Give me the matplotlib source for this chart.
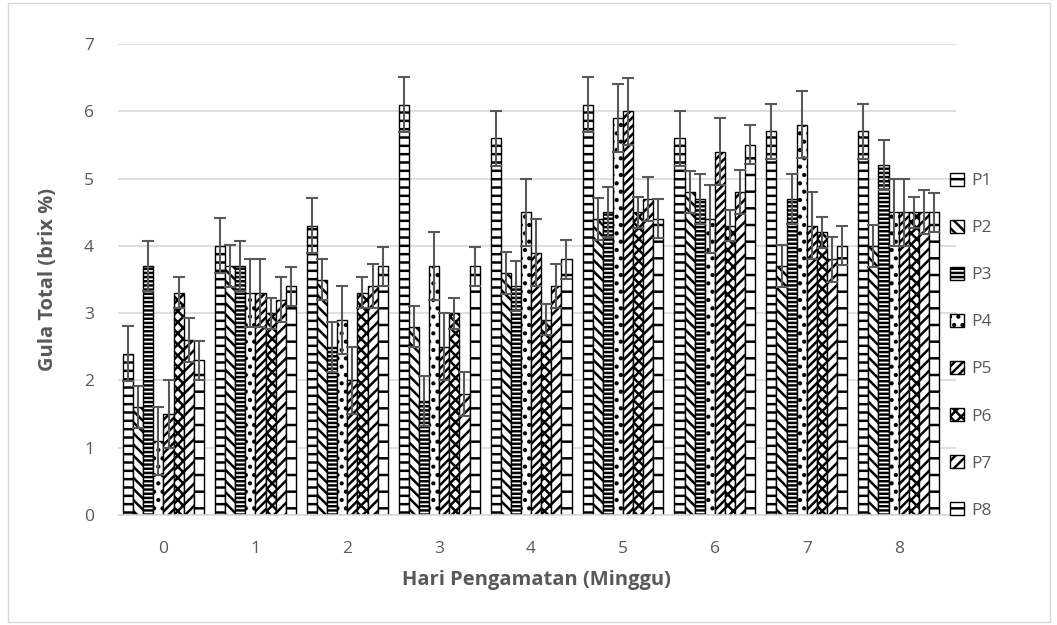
import numpy as np
import matplotlib
matplotlib.use("Agg")
import matplotlib.pyplot as plt
from matplotlib.patches import Patch, Rectangle

weeks = ["0", "1", "2", "3", "4", "5", "6", "7", "8"]
series = ["P1", "P2", "P3", "P4", "P5", "P6", "P7", "P8"]

p1 = [2.4, 4.0, 4.3, 6.1, 5.6, 6.1, 5.6, 5.7, 5.7]
p2 = [1.6, 3.7, 3.5, 2.8, 3.6, 4.4, 4.8, 3.7, 4.0]
p3 = [3.7, 3.7, 2.5, 1.7, 3.4, 4.5, 4.7, 4.7, 5.2]
p4 = [1.1, 3.3, 2.9, 3.7, 4.5, 5.9, 4.4, 5.8, 4.5]
p5 = [1.5, 3.3, 2.0, 2.5, 3.9, 6.0, 5.4, 4.3, 4.5]
p6 = [3.3, 3.0, 3.3, 3.0, 2.9, 4.5, 4.3, 4.2, 4.5]
p7 = [2.6, 3.2, 3.4, 1.8, 3.4, 4.7, 4.8, 3.8, 4.5]
p8 = [2.3, 3.4, 3.7, 3.7, 3.8, 4.4, 5.5, 4.0, 4.5]
values = [p1, p2, p3, p4, p5, p6, p7, p8]

# standard deviation per treatment (same across weeks)
errors = [0.41, 0.31, 0.37, 0.5, 0.5, 0.23, 0.33, 0.29]

hatches = ["--", "\\\\\\", "----", "..", "////", "xxx", "///", "-"]

plt.rcParams["font.family"] = ["Open Sans", "DejaVu Sans"]
plt.rcParams["hatch.linewidth"] = 1.8

fig = plt.figure(figsize=(10.57, 6.25), dpi=100)
ax = fig.add_axes([0.1112, 0.176, 0.7933, 0.7536])

x = np.arange(len(weeks))
n = len(series)
width = 0.88 / n
for i, (vals, err, h) in enumerate(zip(values, errors, hatches)):
    pos = x - 0.44 + width * (i + 0.5)
    ax.bar(pos, vals, width, color="white", edgecolor="black", hatch=h,
           linewidth=1.0, label=series[i], zorder=2)
    ax.errorbar(pos, vals, yerr=err, fmt="none", ecolor="#595959",
                elinewidth=1.5, capsize=4, capthick=1.5, zorder=3)

# gridlines run a little past the last category, as in the original
ax.set_xlim(-0.5, 8.624)
ax.set_ylim(0, 7)
ax.set_yticks(range(0, 8))
ax.set_xticks(x)
ax.set_xticklabels(weeks)
ax.yaxis.grid(True, color="#d9d9d9", linewidth=1.2, zorder=0)
ax.set_axisbelow(True)
for s in ["top", "right", "left"]:
    ax.spines[s].set_visible(False)
ax.spines["bottom"].set_color("#d9d9d9")
ax.spines["bottom"].set_linewidth(1.2)
ax.tick_params(axis="both", length=0, labelsize=12.5, colors="#595959")
ax.tick_params(axis="x", pad=19)
ax.tick_params(axis="y", pad=17)

ax.set_xlabel("Hari Pengamatan (Minggu)", fontsize=14.5, fontweight="bold",
              color="#595959", labelpad=9)
ax.set_ylabel("Gula Total (brix %)", fontsize=14.5, fontweight="bold",
              color="#595959", labelpad=19)

handles = [Patch(facecolor="white", edgecolor="black", hatch=h, label=s)
           for s, h in zip(series, hatches)]
fig.legend(handles=handles, loc="center left", bbox_to_anchor=(0.884, 0.447),
           frameon=False, fontsize=12.5, labelcolor="#595959",
           handlelength=0.8, handleheight=0.8, handletextpad=0.4,
           labelspacing=1.75)

fig.patches.append(Rectangle((0.008, 0.005), 0.985, 0.99, transform=fig.transFigure,
                             fill=False, edgecolor="#d9d9d9", linewidth=1.0))

fig.savefig("out.png", dpi=100)
